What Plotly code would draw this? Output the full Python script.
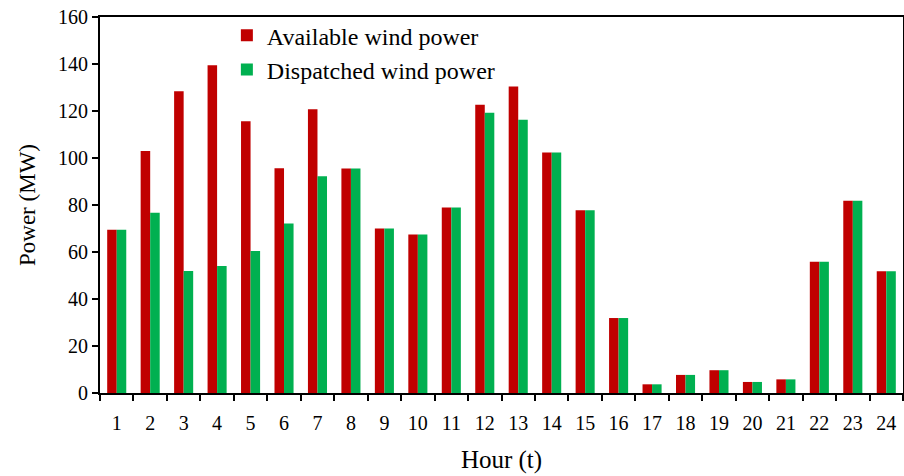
import plotly.graph_objects as go

hours = [str(h) for h in range(1, 25)]
available = [69.5, 103, 128.4, 139.5, 115.6, 95.6, 120.7, 95.5, 70, 67.4, 78.9, 122.7,
             130.4, 102.3, 77.8, 31.9, 3.7, 7.7, 9.7, 4.7, 5.8, 55.8, 81.8, 51.8]
dispatched = [69.5, 76.7, 51.9, 54, 60.4, 72.1, 92.2, 95.5, 70, 67.4, 78.9, 119.3,
              116.3, 102.3, 77.8, 31.9, 3.7, 7.7, 9.7, 4.7, 5.8, 55.8, 81.8, 51.8]

font_family = "Liberation Serif, Times New Roman, serif"

fig = go.Figure()
fig.add_trace(go.Bar(x=hours, y=available, name="Available wind power",
                     marker=dict(color="#C00000", line=dict(width=0)), legendgroup="a"))
fig.add_trace(go.Bar(x=hours, y=dispatched, name="Dispatched wind power",
                     marker=dict(color="#00B050", line=dict(width=0)), legendgroup="b"))

fig.update_layout(
    width=904, height=476,
    margin=dict(l=100, r=1, t=17, b=83),
    paper_bgcolor="white", plot_bgcolor="white",
    barmode="group", bargap=0.43, bargroupgap=0,
    font=dict(family=font_family, size=20, color="black"),
    legend=dict(x=0.158, y=1.01, xanchor="left", yanchor="top",
                bgcolor="rgba(0,0,0,0)", font=dict(size=24),
                tracegroupgap=0, itemwidth=30),
    showlegend=True,
)
fig.update_xaxes(
    type="category", tickson="boundaries", ticks="outside", ticklen=6,
    tickwidth=1.5, tickcolor="black", automargin=False,
    showline=True, linecolor="black", linewidth=2, mirror=True,
    showgrid=False, ticklabelstandoff=11,
    title=dict(text="Hour (t)", font=dict(size=25), standoff=17),
)
fig.update_yaxes(
    range=[0, 160], dtick=20, ticks="outside", ticklen=6, tickwidth=1.5,
    tickcolor="black", showline=True, linecolor="black", linewidth=2, mirror=True,
    showgrid=False, zeroline=False, automargin=False,
    title=dict(text="Power (MW)", font=dict(size=23), standoff=16),
)

fig.write_html("out.html", config={"displayModeBar": False},
               post_script="document.body.style.margin='0';document.body.style.overflow='hidden';")
